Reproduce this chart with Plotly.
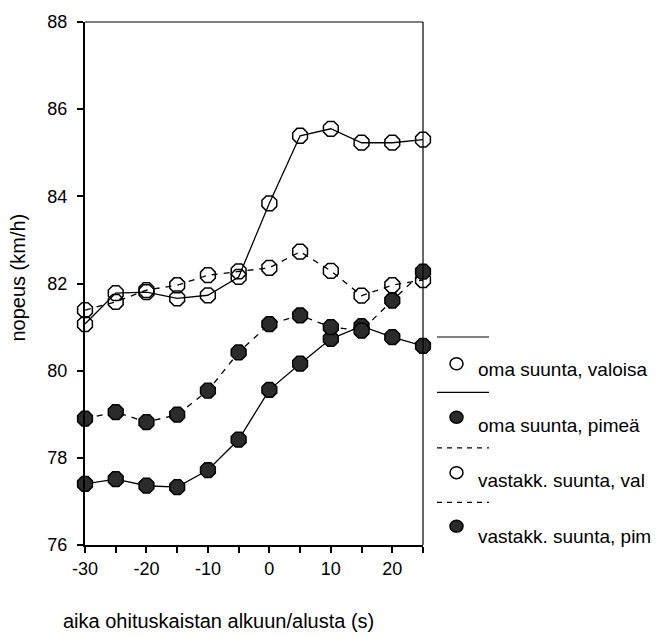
import plotly.graph_objects as go

x = [-30, -25, -20, -15, -10, -5, 0, 5, 10, 15, 20, 25]
oma_valoisa = [81.07, 81.78, 81.80, 81.66, 81.73, 82.15, 83.84, 85.39, 85.55, 85.23, 85.23, 85.30]
oma_pimea = [77.40, 77.51, 77.36, 77.33, 77.72, 78.42, 79.56, 80.16, 80.73, 81.02, 80.77, 80.57]
vast_val = [81.39, 81.58, 81.85, 81.96, 82.19, 82.28, 82.36, 82.73, 82.29, 81.72, 81.96, 82.08]
vast_pim = [78.90, 79.05, 78.82, 78.99, 79.54, 80.42, 81.07, 81.27, 81.00, 80.92, 81.61, 82.27]

series_names = ["oma suunta, valoisa", "oma suunta, pimeä", "vastakk. suunta, val", "vastakk. suunta, pim"]
series_vals = [oma_valoisa, oma_pimea, vast_val, vast_pim]
series_dash = ["solid", "solid", "dash", "dash"]
series_filled = [False, True, False, True]

x_tickvals = [-30, -25, -20, -15, -10, -5, 0, 5, 10, 15, 20, 25]
x_ticktext = ["-30", "", "-20", "", "-10", "", "0", "", "10", "", "20", ""]
y_tickvals = [76, 78, 80, 82, 84, 86, 88]

FONT = "Liberation Sans, Arial, sans-serif"
W, H = 656, 637
L, R, T, B = 85, 233, 17, 92
pw, ph = W - L - R, H - T - B

fig = go.Figure()
for name, vals, dash, filled in zip(series_names, series_vals, series_dash, series_filled):
    fig.add_trace(go.Scatter(
        x=x, y=vals, name=name, mode="lines+markers",
        line=dict(color="black", width=1.3, dash="6px,6px" if dash == "dash" else "solid"),
        marker=dict(symbol="octagon" if filled else "octagon-open", size=16,
                    color="#2b2b2b" if filled else "black",
                    line=dict(color="black", width=1.5)),
        cliponaxis=False, showlegend=False,
    ))

def px_x(p):
    return (p - L) / pw

def px_y(p):
    return (H - B - p) / ph

shapes = []
annotations = []
# top and right frame lines
shapes.append(dict(type="line", xref="paper", yref="paper", x0=0, x1=1, y0=1, y1=1,
                   line=dict(color="black", width=1.2), layer="above"))
shapes.append(dict(type="line", xref="paper", yref="paper", x0=1, x1=1, y0=0, y1=1,
                   line=dict(color="black", width=1.2), layer="above"))

# custom legend
leg_line_y = [335, 391, 447, 502]
leg_marker_y = [362, 416, 472, 526]
leg_text_y = [368, 424, 480, 536]
for i, name in enumerate(series_names):
    shapes.append(dict(type="line", xref="paper", yref="paper",
                       x0=px_x(437), x1=px_x(489), y0=px_y(leg_line_y[i]), y1=px_y(leg_line_y[i]),
                       line=dict(color="black", width=1.2,
                                 dash="solid" if series_dash[i] == "solid" else "5px,5px")))
    shapes.append(dict(type="circle", xref="paper", yref="paper",
                       x0=px_x(450), x1=px_x(463), y0=px_y(leg_marker_y[i] - 6), y1=px_y(leg_marker_y[i] + 6),
                       fillcolor="#2b2b2b" if series_filled[i] else "rgba(0,0,0,0)",
                       line=dict(color="black", width=1.5)))
    annotations.append(dict(text=name, xref="paper", yref="paper", x=px_x(476), y=px_y(leg_text_y[i]),
                            xanchor="left", yanchor="middle", showarrow=False,
                            font=dict(family=FONT, size=19, color="black")))

annotations.append(dict(text="aika ohituskaistan alkuun/alusta (s)", xref="paper", yref="paper",
                        x=px_x(218), y=px_y(622), xanchor="center", yanchor="middle", showarrow=False,
                        font=dict(family=FONT, size=20, color="black")))
annotations.append(dict(text="nopeus (km/h)", xref="paper", yref="paper",
                        x=px_x(18), y=px_y(275), xanchor="center", yanchor="middle", showarrow=False,
                        textangle=-90, font=dict(family=FONT, size=20, color="black")))

fig.update_layout(
    width=W, height=H,
    margin=dict(l=L, r=R, t=T, b=B, pad=0),
    plot_bgcolor="white", paper_bgcolor="white",
    font=dict(family=FONT, size=18, color="black"),
    shapes=shapes, annotations=annotations,
    xaxis=dict(range=[-30, 25], tickvals=x_tickvals, ticktext=x_ticktext,
               showgrid=False, zeroline=False, showline=True, linecolor="black", linewidth=2,
               ticks="outside", ticklen=6, tickwidth=1.5, tickcolor="black",
               tickfont=dict(family=FONT, size=18, color="black")),
    yaxis=dict(range=[76, 88], tickvals=y_tickvals,
               showgrid=False, zeroline=False, showline=True, linecolor="black", linewidth=2,
               ticks="outside", ticklen=6, tickwidth=1.5, tickcolor="black",
               ticklabelstandoff=6,
               tickfont=dict(family=FONT, size=18, color="black")),
)

fig.write_html("out.html")
